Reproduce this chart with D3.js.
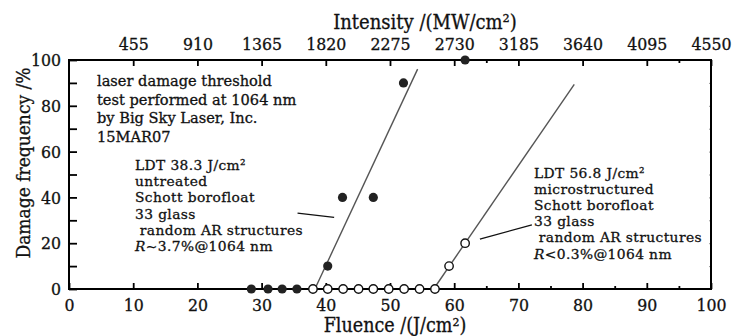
<!DOCTYPE html>
<html><head><meta charset="utf-8">
<script src="https://cdn.jsdelivr.net/npm/d3@7"></script>
<style>
body{margin:0;background:#fff;}
svg text{font-family:"DejaVu Serif Condensed","DejaVu Serif",serif;fill:#111;stroke:#111;stroke-width:0.3px;}
svg text.note{font-family:"DejaVu Serif",serif;}
</style></head>
<body><svg id="c" width="734" height="336"></svg>
<script>
// ---- data ----
const untreatedFluence = [28.4, 31.0, 33.2, 35.5, 40.3, 42.6, 47.4, 52.1, 61.7];
const untreatedDamage  = [0, 0, 0, 0, 10, 40, 40, 90, 100];
const microFluence = [38.0, 40.3, 42.7, 45.1, 47.4, 49.8, 52.2, 54.6, 57.0, 59.2, 61.7];
const microDamage  = [0, 0, 0, 0, 0, 0, 0, 0, 0, 10, 20];
const untreatedFitX = [38.3, 54.3];
const untreatedFitY = [0, 96];
const microFitX = [56.8, 78.7];
const microFitY = [0, 89.4];
const xTicks = [0,10,20,30,40,50,60,70,80,90,100];
const xMinorTicks = [65,75,85,95];
const topTicks = [10,20,30,40,50,60,70,80,90,100];
const topTickLabels = ["455","910","1365","1820","2275","2730","3185","3640","4095","4550"];
const topMinorTicks = [65,95];
const yTicks = [0,10,20,30,40,50,60,70,80,90,100];
const yLabelTicks = [0,20,40,60,80,100];
const note1 = ["laser damage threshold","test performed at 1064 nm","by Big Sky Laser, Inc.","15MAR07"];
const note2 = ["LDT 38.3 J/cm²","untreated","Schott borofloat","33 glass","\u00a0random AR structures"];
const note2Last = ["R","~3.7%@1064 nm"];
const note3 = ["LDT 56.8 J/cm²","microstructured","Schott borofloat","33 glass","\u00a0random AR structures"];
const note3Last = ["R","<0.3%@1064 nm"];
const callout1 = {x:[35.6,41.3], y:[33.1,31.3]};
const callout2 = {x:[64.0,72.1], y:[21.8,28.0]};

// ---- chart ----
const svg = d3.select("#c");
const L=69,R=711,T=60,B=289;
const x = d3.scaleLinear().domain([0,100]).range([L,R]);
const y = d3.scaleLinear().domain([0,100]).range([B,T]);

function styleAxis(g){
  g.select(".domain").remove();
  g.selectAll("line").attr("stroke","#000").attr("stroke-width",1.8);
  g.selectAll("text").attr("font-size",17.5).attr("fill","#111");
}
// bottom
svg.append("g").attr("transform",`translate(0,${B})`)
  .call(d3.axisBottom(x).tickValues(xTicks).tickSize(-6).tickPadding(10).tickFormat(d3.format("d")))
  .call(styleAxis);
svg.append("g").attr("transform",`translate(0,${B})`)
  .call(d3.axisBottom(x).tickValues(xMinorTicks).tickSize(-3).tickFormat(""))
  .call(styleAxis);
// top
svg.append("g").attr("transform",`translate(0,${T})`)
  .call(d3.axisTop(x).tickValues(topTicks).tickSize(-6).tickPadding(10).tickFormat((d,i)=>topTickLabels[i]))
  .call(styleAxis);
svg.append("g").attr("transform",`translate(0,${T})`)
  .call(d3.axisTop(x).tickValues(topMinorTicks).tickSize(-3).tickFormat(""))
  .call(styleAxis);
// left
svg.append("g").attr("transform",`translate(${L},0)`)
  .call(d3.axisLeft(y).tickValues(yTicks).tickSize(-8).tickPadding(8).tickFormat(d=>yLabelTicks.includes(d)?d:""))
  .call(styleAxis);
// right
const ra = svg.append("g").attr("transform",`translate(${R},0)`)
  .call(d3.axisRight(y).tickValues(yTicks).tickSize(-2).tickFormat(""))
  .call(styleAxis);
ra.selectAll("line").attr("stroke","#999").attr("stroke-width",1);

// frame
svg.append("rect").attr("x",L).attr("y",T).attr("width",R-L).attr("height",B-T)
  .attr("fill","none").attr("stroke","#000").attr("stroke-width",2);

// fit lines
const line = d3.line().x(d=>x(d[0])).y(d=>y(d[1]));
svg.append("path").datum(d3.zip(untreatedFitX,untreatedFitY)).attr("d",line)
  .attr("stroke","#555").attr("stroke-width",1.4).attr("fill","none");
svg.append("path").datum(d3.zip(microFitX,microFitY)).attr("d",line)
  .attr("stroke","#555").attr("stroke-width",1.4).attr("fill","none");
// callouts
[callout1,callout2].forEach(c=>{
  svg.append("path").datum(d3.zip(c.x,c.y)).attr("d",line)
    .attr("stroke","#111").attr("stroke-width",1.3).attr("fill","none");
});

// points
svg.append("g").selectAll("circle").data(d3.zip(microFluence,microDamage)).join("circle")
  .attr("cx",d=>x(d[0])).attr("cy",d=>y(d[1])).attr("r",4.2)
  .attr("fill","#fff").attr("stroke","#111").attr("stroke-width",1.4);
svg.append("g").selectAll("circle").data(d3.zip(untreatedFluence,untreatedDamage)).join("circle")
  .attr("cx",d=>x(d[0])).attr("cy",d=>y(d[1])).attr("r",4.6)
  .attr("fill","#222");

// axis titles
svg.append("text").attr("x",395).attr("y",332).attr("text-anchor","middle")
  .attr("font-size",19.5).text("Fluence /(J/cm²)");
svg.append("text").attr("x",425).attr("y",29).attr("text-anchor","middle")
  .attr("font-size",20).text("Intensity /(MW/cm²)");
svg.append("text").attr("transform","translate(30,163) rotate(-90)").attr("text-anchor","middle")
  .attr("font-size",19).text("Damage frequency /%");

// notes: one text per line
function block(lines,last,x0,y0,dy,fs,ls){
  lines.forEach((s,i)=>svg.append("text").attr("class","note").attr("x",x0).attr("y",y0+i*dy)
    .attr("font-size",fs).attr("letter-spacing",ls).text(s));
  if(last){
    const t = svg.append("text").attr("class","note").attr("x",x0).attr("y",y0+lines.length*dy)
      .attr("font-size",fs).attr("letter-spacing",ls);
    t.append("tspan").attr("font-style","italic").text(last[0]);
    t.append("tspan").text(last[1]);
  }
}
block(note1,null,97,86,18.5,14.6,0);
block(note2,note2Last,135,170,16.2,13.8,0.4);
block(note3,note3Last,534,178,16.1,13.8,0.4);
</script></body></html>
